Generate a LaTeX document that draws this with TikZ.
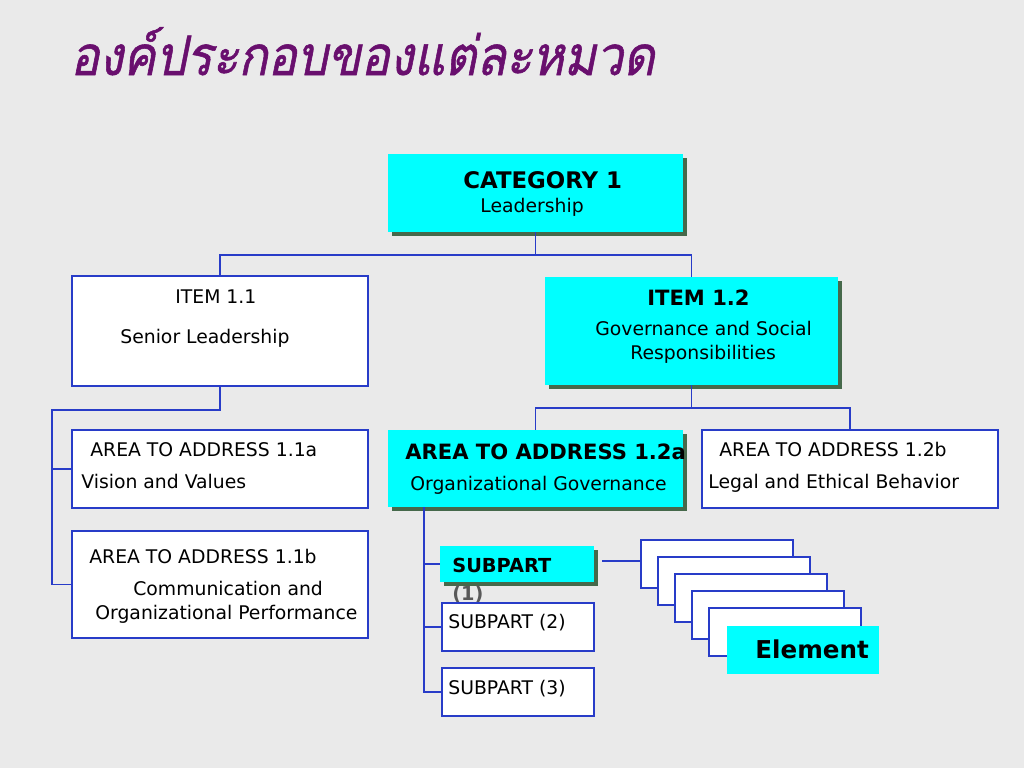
\documentclass[tikz,border=0pt]{standalone}
\usepackage{fontspec}
\setmainfont{DejaVu Sans}
\newfontfamily\thaifont[Script=Thai, FakeSlant=0.2, FakeStretch=0.89, FakeBold=1]{Loma}
\usepackage{tikz}
\usetikzlibrary{shadows}
\definecolor{bggray}{RGB}{234,234,234}
\definecolor{lineblue}{RGB}{40,60,200}
\definecolor{boxcyan}{RGB}{0,255,255}
\definecolor{shadowgreen}{RGB}{70,105,75}
\definecolor{titlepurple}{RGB}{105,15,110}
\tikzset{
  %---------------------------------------%
  %  Boxes                                %
  %---------------------------------------%
  % Plain box with blue frame
  box_white/.style={
    rectangle,
    draw=lineblue,
    line width=1pt,
    fill=white,
    inner sep=0pt
  },
  % Highlighted box with shadow
  box_cyan/.style={
    rectangle,
    fill=boxcyan,
    inner sep=0pt,
    drop shadow={shadow xshift=0.08cm, shadow yshift=-0.08cm,
                 fill=shadowgreen, opacity=1}
  },
  % Highlighted box without shadow
  box_flat/.style={
    rectangle,
    fill=boxcyan,
    inner sep=0pt
  },
  %----------------%
  %     Texts      %
  %----------------%
  txt/.style={anchor=base west, inner sep=0pt, font=\fontsize{10.7}{12}\selectfont},
  txt_bold/.style={anchor=base west, inner sep=0pt, font=\fontsize{12}{14}\selectfont\bfseries},
  %----------------%
  %     Lines      %
  %----------------%
  conn/.style={draw=lineblue, line width=0.9pt},
}

\begin{document}
\begin{tikzpicture}[x=0.02cm, y=-0.02cm]
    \fill [bggray] (0, 0) rectangle (1024, 768);
    \useasboundingbox (0, 0) rectangle (1024, 768);

    % Title
    \node (title) [anchor=base west, inner sep=0pt, text=titlepurple,
      font=\thaifont\fontsize{31}{36}\selectfont] at (70, 75) {องค์ประกอบของแต่ละหมวด};

    %------------------%
    %  Category        %
    %------------------%
    \node (cat) [box_cyan, minimum width=5.9cm, minimum height=1.56cm] at (535.5, 193) {};
    \node (cat_t) [txt_bold, font=\fontsize{13}{15}\selectfont\bfseries] at (463, 188) {CATEGORY 1};
    \node (cat_s) [txt] at (480, 212) {Leadership};

    %------------------%
    %  Items           %
    %------------------%
    % Item 1.1
    \node (item11) [box_white, minimum width=5.92cm, minimum height=2.2cm] at (220, 331) {};
    \node (item11_t) [txt] at (175, 303) {ITEM 1.1};
    \node (item11_s) [txt] at (120, 343) {Senior Leadership};
    % Item 1.2
    \node (item12) [box_cyan, minimum width=5.86cm, minimum height=2.16cm] at (691.5, 331) {};
    \node (item12_t) [txt_bold] at (647, 305) {ITEM 1.2};
    \node (item12_s1) [txt] at (595, 335) {Governance and Social};
    \node (item12_s2) [txt] at (630, 359) {Responsibilities};

    %------------------%
    %  Areas           %
    %------------------%
    % Area 1.1a
    \node (area11a) [box_white, minimum width=5.92cm, minimum height=1.56cm] at (220, 469) {};
    \node (area11a_t) [txt] at (90, 456) {AREA TO ADDRESS 1.1a};
    \node (area11a_s) [txt] at (81, 488) {Vision and Values};
    % Area 1.1b
    \node (area11b) [box_white, minimum width=5.92cm, minimum height=2.14cm] at (220, 584.5) {};
    \node (area11b_t) [txt] at (89, 563) {AREA TO ADDRESS 1.1b};
    \node (area11b_s1) [txt] at (133, 595) {Communication and};
    \node (area11b_s2) [txt] at (95, 619) {Organizational Performance};
    % Area 1.2a
    \node (area12a) [box_cyan, minimum width=5.9cm, minimum height=1.54cm] at (535.5, 468.5) {};
    \node (area12a_t) [txt_bold] at (405, 459) {AREA TO ADDRESS 1.2a};
    \node (area12a_s) [txt] at (410, 490) {Organizational Governance};
    % Area 1.2b
    \node (area12b) [box_white, minimum width=5.92cm, minimum height=1.56cm] at (850, 469) {};
    \node (area12b_t) [txt] at (719, 456) {AREA TO ADDRESS 1.2b};
    \node (area12b_s) [txt] at (708, 488) {Legal and Ethical Behavior};

    %------------------%
    %  Subparts        %
    %------------------%
    \node (sub1) [box_cyan, minimum width=3.08cm, minimum height=0.72cm] at (517, 564) {};
    \node (sub1_t) [txt_bold, font=\fontsize{11}{13}\selectfont\bfseries] at (452, 572) {SUBPART};
    \node (sub1_n) [txt_bold, font=\fontsize{11}{13}\selectfont\bfseries, text=black!65] at (452, 600) {(1)};
    \node (sub2) [box_white, minimum width=3.04cm, minimum height=0.96cm] at (518, 627) {};
    \node (sub2_t) [txt] at (448, 628) {SUBPART (2)};
    \node (sub3) [box_white, minimum width=3.04cm, minimum height=0.96cm] at (518, 692) {};
    \node (sub3_t) [txt] at (448, 694) {SUBPART (3)};

    %------------------%
    %  Elements        %
    %------------------%
    \foreach \k in {1,...,5} {
      \node (el\k) [box_white, minimum width=3.04cm, minimum height=0.96cm] at (700 + 17*\k, 547 + 17*\k) {};
    }
    \node (elem) [box_flat, minimum width=3.04cm, minimum height=0.96cm] at (803, 650) {};
    \node (elem_t) [txt_bold, font=\fontsize{14}{17}\selectfont\bfseries] at (755, 658) {Element};

    %----------%
    %  Lines   %
    %----------%
    \coordinate (j1) at (535, 255);
    \coordinate (j2) at (693, 408);
    \coordinate (j3) at (52, 410);
    \coordinate (trunk) at (424, 692);
    \coordinate (s1out) at (602, 561);

    % Category --> Items
    \draw [conn] (cat.south) -- (cat.south |- j1);
    \draw [conn] (item11.north) |- (j1) -| (item12.north);

    % Item 1.1 --> Areas 1.1a / 1.1b
    \draw [conn] (item11.south) |- (j3) |- (area11b.west);
    \draw [conn] (area11a.west) -- (area11a.west -| j3);

    % Item 1.2 --> Areas 1.2a / 1.2b
    \draw [conn] (item12.south) -- (item12.south |- j2);
    \draw [conn] (area12a.north) |- (j2) -| (area12b.north);

    % Area 1.2a --> Subparts
    \draw [conn] (area12a.south -| trunk) -- (trunk) -- (sub3.west);
    \draw [conn] (sub1.west) -- (sub1.west -| trunk);
    \draw [conn] (sub2.west) -- (sub2.west -| trunk);

    % Subpart (1) --> Elements
    \draw [conn] (s1out) -- (el1.west |- s1out);
\end{tikzpicture}
\end{document}
